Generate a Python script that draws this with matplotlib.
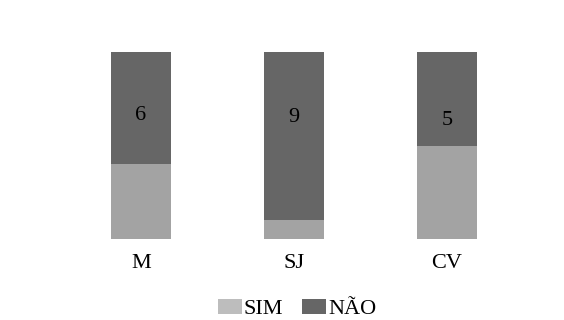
import matplotlib.pyplot as plt
from matplotlib.patches import Patch

categories = ["M", "SJ", "CV"]
sim = [4, 1, 5]
nao = [6, 9, 5]

plt.rcParams['font.family'] = ['Liberation Serif', 'DejaVu Serif']

sim_color = "#a3a3a3"
nao_color = "#666666"

fig = plt.figure(figsize=(5.64, 3.2), dpi=100)
ax = fig.add_axes([0.0, 81 / 320, 1.0, 187 / 320])

totals = [s + n for s, n in zip(sim, nao)]
sim_frac = [s / t for s, t in zip(sim, totals)]
nao_frac = [n / t for n, t in zip(nao, totals)]
x = range(len(categories))

ax.bar(x, sim_frac, width=0.392, color=sim_color)
ax.bar(x, nao_frac, width=0.392, bottom=sim_frac, color=nao_color)

label_y = [0.66, 0.652, 0.636]
for i, n in enumerate(nao):
    ax.text(i, label_y[i], str(n), ha='center', va='center', fontsize=16, color='black')

ax.set_xlim(-141 / 153, 423 / 153)
ax.set_ylim(0, 1)
ax.set_xticks(list(x))
ax.set_xticklabels(categories, fontsize=16)
ax.tick_params(axis='x', length=0, pad=10.5)
ax.set_yticks([])
for s in ax.spines.values():
    s.set_visible(False)

handles = [Patch(facecolor="#bdbdbd", label="SIM"), Patch(facecolor=nao_color, label="NÃO")]
fig.legend(handles=handles, loc='center', bbox_to_anchor=(297 / 564, 1 - 309 / 320),
           ncol=2, frameon=False, fontsize=16, handlelength=1.08, handleheight=0.7,
           handletextpad=0.1, columnspacing=0.85)

fig.savefig("out.png", dpi=100)
